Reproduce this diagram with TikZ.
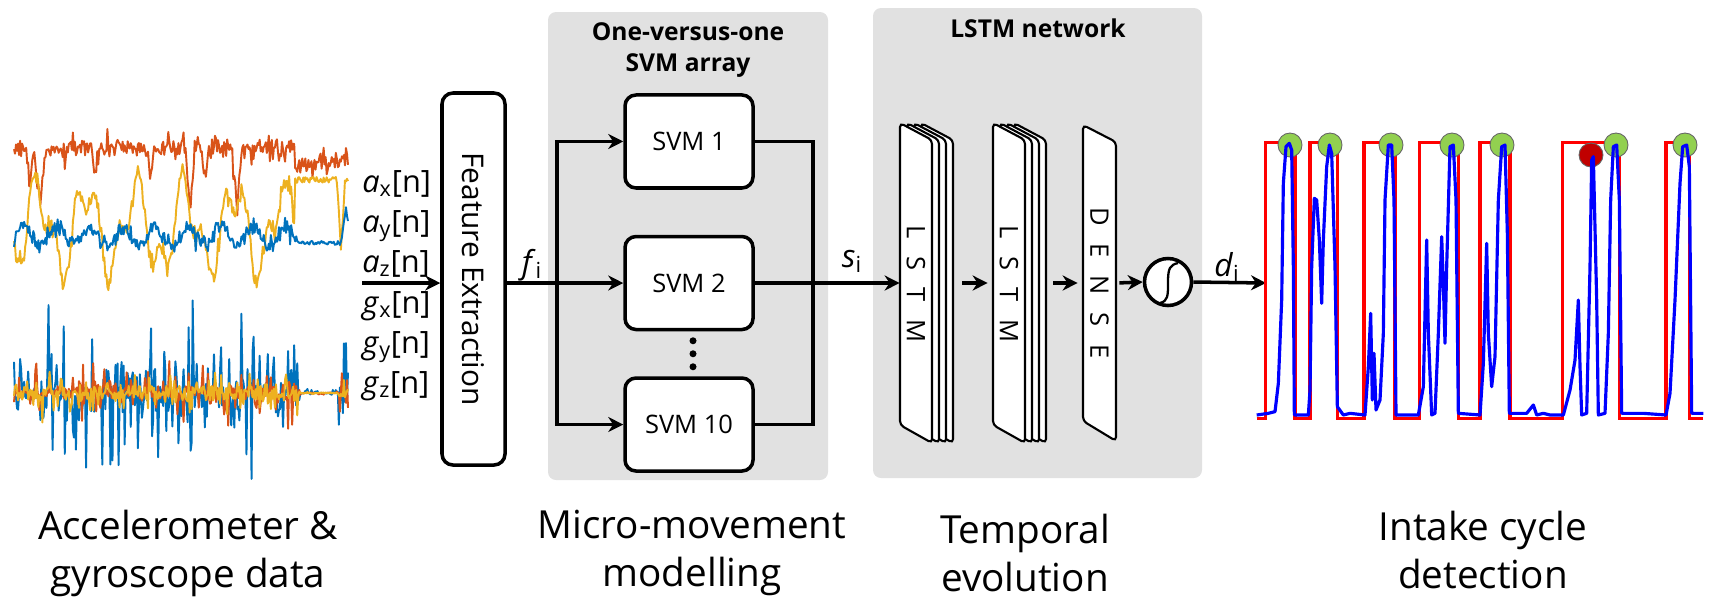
\documentclass[tikz,border=0pt]{standalone}
\usepackage{fontspec}
\setmainfont{Open Sans}
\usetikzlibrary{positioning}
\usetikzlibrary{arrows.meta}
\usetikzlibrary{calc}
\definecolor{panelgray}{RGB}{225,225,225}
\definecolor{sigblue}{RGB}{0,114,189}
\definecolor{sigorange}{RGB}{217,83,25}
\definecolor{sigyellow}{RGB}{237,177,32}
\definecolor{peakgreen}{RGB}{146,208,80}
\definecolor{peakred}{RGB}{192,0,0}
\tikzset{
    panel/.style={fill=panelgray, rounded corners=1.6mm},
    paneltitle/.style={font=\bfseries\fontsize{14}{17.6}\selectfont, align=center, inner sep=0pt},
    block/.style={draw, line width=2pt, rounded corners=2.2mm, fill=white, inner sep=0pt},
    febox/.style={block, minimum width=12.6mm, minimum height=74.4mm, font=\fontsize{17}{20}\selectfont},
    svmbox/.style={block, minimum width=25.6mm, minimum height=18.6mm, font=\fontsize{14.5}{17}\selectfont},
    sheet/.style={draw, line width=1.2pt, fill=white, rounded corners=0.8mm},
    stack/.style={minimum width=11mm, minimum height=64mm, inner sep=0pt},
    layertext/.style={font=\fontsize{14.5}{16}\selectfont, inner sep=0pt},
    wire/.style={line width=2pt},
    flow/.style={wire, -{Stealth[length=3mm, width=3mm]}},
    flowlabel/.style={font=\fontsize{18}{20}\selectfont, anchor=base, inner sep=0pt},
    siglabel/.style={font=\fontsize{17.5}{20}\selectfont, anchor=base west, inner sep=0pt},
    caption/.style={font=\fontsize{22}{27.3}\selectfont, align=center},
    trace/.style={line width=1.1pt, line join=round},
    peak/.style={draw=black!60, line width=0.5pt},
}
\newcommand{\spread}[1]{\hspace{0.7em}}

\begin{document}
\begin{tikzpicture}[x=0.2mm, y=-0.2mm]
\useasboundingbox (0,0) rectangle (1710,602);

% grey backgrounds
\fill[panel] (548,12) rectangle (828,480);
\fill[panel] (873,8) rectangle (1202,478);
\node[paneltitle] (svmtitle) at (688,50) {One-versus-one\\SVM array};
\node[paneltitle] (lstmtitle) at (1038,28) {LSTM network};

% raw sensor signals
\pgfmathsetseed{4711}
\draw[trace, sigorange] plot[domain=14:348, samples=330, variable=\t]
    (\t, {148 + 7*rand + 22*rand*rand*rand + 60*max(0,1-abs(\t-40)/6)
     + 35*max(0,1-abs(\t-30)/4) + 30*max(0,1-abs(\t-95)/4) + 30*max(0,1-abs(\t-150)/5)
     + 62*max(0,1-abs(\t-190)/5) + 30*max(0,1-abs(\t-205)/4) + 58*max(0,1-abs(\t-237)/5)
     + 14*(\t>295)});
\draw[trace, sigyellow] plot[domain=14:348, samples=330, variable=\t]
    (\t, {(\t<295)*(228 + 38*sin(7.3*\t) + 20*sin(17*\t+60) + 7*rand + 22*rand*rand*rand)
     + (\t>=295)*(180 + 3*rand) + 70*max(0,1-abs(\t-341)/4)});
\draw[trace, sigblue] plot[domain=14:348, samples=330, variable=\t]
    (\t, {(\t<297)*(236 + 9*sin(11*\t) + 6*rand + 14*rand*rand*rand)
     + (\t>=297)*(243 + 2*rand) - 35*max(0,1-abs(\t-346)/5)});
\draw[trace, sigblue] plot[domain=14:348, samples=330, variable=\t]
    (\t, {393 + (1-0.95*(\t>300)*(\t<338))*(120*rand*rand*rand + 5*rand)});
\draw[trace, sigorange] plot[domain=14:348, samples=330, variable=\t]
    (\t, {393 + (1-0.95*(\t>300)*(\t<338))*(50*rand*rand*rand + 4*rand)});
\draw[trace, sigyellow] plot[domain=14:348, samples=330, variable=\t]
    (\t, {393 + (1-0.95*(\t>300)*(\t<338))*(35*rand*rand*rand + 7*rand)});

\node[siglabel] (ax) at (362,192) {\textit{a}\textsubscript{x}[n]};
\node[siglabel] (ay) at (362,232) {\textit{a}\textsubscript{y}[n]};
\node[siglabel] (az) at (362,272) {\textit{a}\textsubscript{z}[n]};
\node[siglabel] (gx) at (362,313) {\textit{g}\textsubscript{x}[n]};
\node[siglabel] (gy) at (362,353) {\textit{g}\textsubscript{y}[n]};
\node[siglabel] (gz) at (362,393) {\textit{g}\textsubscript{z}[n]};

% feature extraction and SVM array
\node[febox] (fe) at (473.5,279) {\rotatebox{-90}{Feature Extraction}};
\node[svmbox] (svm2) at (689,283) {SVM 2};
\node[svmbox, above=9mm of svm2] (svm1) {SVM 1};
\node[svmbox, below=9mm of svm2] (svm10) {SVM 10};
\foreach \k in {-1,0,1}
    \fill ($(svm2.south)!0.5!(svm10.north)+(4,\k*13)$) circle (0.7mm);

\coordinate (sigout) at (362,283);
\coordinate (split) at (557,283);
\coordinate (merge) at (813,283);
\draw[flow] (sigout) -- (sigout -| fe.west);
\draw[flow] (svm2.west -| fe.east) -- (svm2.west);
\draw[flow] (split) |- (svm1.west);
\draw[flow] (split) |- (svm10.west);
\draw[wire] (svm1.east) -| (merge);
\draw[wire] (svm10.east) -| (merge);
\node[flowlabel] (fi) at (532,273) {\textit{f}\textsubscript{i}};
\node[flowlabel] (si) at (852,267) {\textit{s}\textsubscript{i}};

% LSTM layers
\foreach \x in {900,993}
    \foreach \dx in {21,14,7,0}
        \draw[sheet] (\x+\dx,123) -- (\x+\dx+32,140) -- (\x+\dx+32,443) -- (\x+\dx,425) -- cycle;
\draw[sheet] (1083,125) -- (1116,142) -- (1116,441) -- (1083,421) -- cycle;
\node[stack] (lstm1) at (927.5,283) {};
\node[stack] (lstm2) at (1020.5,283) {};
\node[layertext] (lstm1txt) at (916,284) {\rotatebox{-90}{L\spread{}S\spread{}T\spread{}M}};
\node[layertext] (lstm2txt) at (1009,284) {\rotatebox{-90}{L\spread{}S\spread{}T\spread{}M}};
\node[stack, minimum width=6.6mm, layertext] (dense) at (1099.5,283)
    {\rotatebox{-90}{D\spread{}E\spread{}N\spread{}S\spread{}E}};
\node[block, circle, minimum size=9.4mm] (sigm) at (1168,282) {};
\draw[line width=1.3pt] ($(sigm)+(-8,21)$) .. controls +(8,-2) and +(0,14) .. (sigm.center)
    .. controls +(0,-14) and +(-8,2) .. ($(sigm)+(10,-19)$);

\draw[flow] (svm2.east) -- (lstm1.west);
\draw[flow, shorten <=1.4mm, shorten >=1mm] (lstm1.east) -- (lstm2.west);
\draw[flow, shorten <=1mm, shorten >=1mm] (lstm2.east) -- (dense.west);
\draw[flow, shorten <=0.6mm] (dense.east) -- (sigm.west);
\coordinate (plotin) at (1266,283);
\draw[flow] (sigm.east) -- (plotin);
\node[flowlabel] (di) at (1227,276) {\textit{d}\textsubscript{i}};

% intake cycle detection
\begin{scope}[shift={(1250,100)}, scale=1/3]
\draw[line width=1.8pt, red] (20,955) -- (47,955) -- (47,128) -- (135,128) -- (135,955)
    -- (180,955) -- (180,128) -- (262,128) -- (262,955) -- (342,955) -- (342,128)
    -- (435,128) -- (435,955) -- (508,955) -- (508,128) -- (625,128) -- (625,955)
    -- (690,955) -- (690,128) -- (780,128) -- (780,955) -- (938,955) -- (938,128)
    -- (1108,128) -- (1108,955) -- (1248,955) -- (1248,128) -- (1318,128) -- (1318,955)
    -- (1360,955);
\end{scope}
\foreach \cx in {1290,1330,1391,1452,1502,1616,1685}
    \filldraw[peak, fill=peakgreen] (\cx,145) circle (2.4mm);
\filldraw[peak, fill=peakred] (1591,155) circle (2.4mm);
\begin{scope}[shift={(1250,100)}, scale=1/3]
\draw[line width=1.8pt, blue, line join=round] (20,945) -- (55,940) -- (75,935) -- (85,850)
    -- (95,600) -- (100,250) -- (108,140) -- (118,130) -- (125,150) -- (130,500) -- (133,945)
    -- (175,945) -- (180,870) -- (185,500) -- (193,295) -- (200,300) -- (208,420) -- (215,610)
    -- (220,420) -- (230,200) -- (238,135) -- (245,160) -- (255,500) -- (262,920) -- (280,945)
    -- (300,940) -- (345,945) -- (355,800) -- (362,640) -- (367,900) -- (372,760) -- (378,930)
    -- (390,900) -- (400,700) -- (405,300) -- (415,135) -- (425,135) -- (432,300) -- (438,945)
    -- (505,945) -- (520,860) -- (530,420) -- (535,700) -- (545,945) -- (555,940) -- (565,700)
    -- (575,410) -- (580,550) -- (585,730) -- (590,500) -- (600,140) -- (610,135) -- (618,300)
    -- (625,940) -- (690,945) -- (700,790) -- (710,430) -- (715,700) -- (725,860) -- (735,770)
    -- (745,300) -- (755,140) -- (765,135) -- (772,400) -- (778,940) -- (830,940) -- (850,915)
    -- (860,945) -- (880,940) -- (900,945) -- (940,945) -- (960,870) -- (975,780) -- (985,600)
    -- (990,800) -- (995,945) -- (1010,940) -- (1020,500) -- (1025,180) -- (1030,170)
    -- (1040,600) -- (1045,945) -- (1065,940) -- (1075,700) -- (1082,300) -- (1090,140)
    -- (1100,135) -- (1108,300) -- (1115,940) -- (1180,940) -- (1248,945) -- (1260,880)
    -- (1275,600) -- (1290,250) -- (1298,140) -- (1310,135) -- (1318,200) -- (1325,940)
    -- (1360,940);
\end{scope}

% stage captions
\node[caption] (cap1) at (188,553) {Accelerometer \&\\gyroscope data};
\node[caption] (cap2) at (692,553) {Micro-movement\\modelling};
\node[caption] (cap3) at (1025,553) {Temporal\\evolution};
\node[caption] (cap4) at (1483,550) {Intake cycle\\detection};
\end{tikzpicture}
\end{document}
